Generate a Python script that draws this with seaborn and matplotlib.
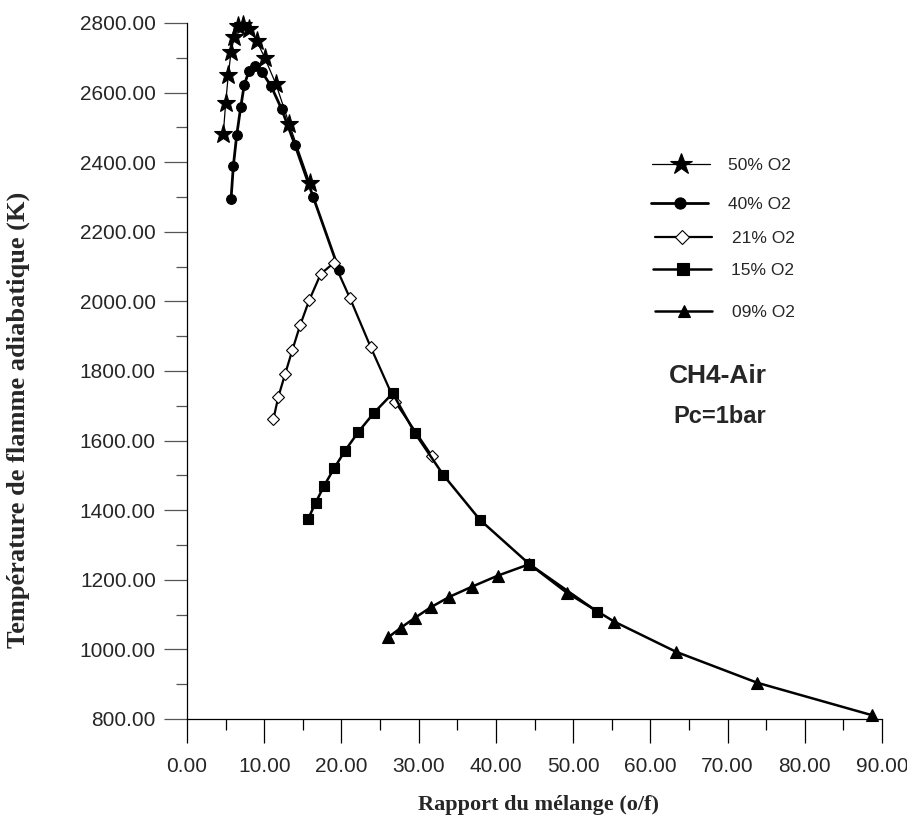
import numpy as np
import pandas as pd
import matplotlib
matplotlib.use("Agg")
import matplotlib.pyplot as plt
import seaborn as sns
from matplotlib.lines import Line2D
from matplotlib.ticker import MultipleLocator, FormatStrFormatter

# ---- data ----
o2_50_x = [4.70, 5.01, 5.35, 5.70, 6.13, 6.64, 7.29, 8.07, 9.03, 10.10, 11.53, 13.25, 15.93]
o2_50_y = [2481, 2571, 2651, 2716, 2761, 2790, 2795, 2782, 2749, 2698, 2624, 2509, 2339]
o2_40_x = [5.70, 6.00, 6.44, 6.96, 7.42, 8.03, 8.81, 9.68, 10.88, 12.27, 13.99, 16.36, 19.69]
o2_40_y = [2293, 2389, 2478, 2559, 2623, 2662, 2676, 2660, 2619, 2552, 2449, 2299, 2090]
o2_21_x = [11.18, 11.83, 12.69, 13.64, 14.64, 15.84, 17.32, 19.04, 21.11, 23.80, 26.94, 31.70]
o2_21_y = [1661, 1726, 1790, 1860, 1931, 2004, 2079, 2111, 2009, 1868, 1712, 1556]
o2_15_x = [15.71, 16.67, 17.75, 19.04, 20.47, 22.19, 24.22, 26.64, 29.53, 33.20, 37.95, 44.34, 53.15]
o2_15_y = [1376, 1422, 1470, 1520, 1571, 1625, 1680, 1736, 1621, 1501, 1372, 1245, 1108]
o2_09_x = [26.08, 27.68, 29.53, 31.57, 33.98, 36.88, 40.25, 44.34, 49.18, 55.31, 63.34, 73.87, 88.69]
o2_09_y = [1035, 1062, 1091, 1121, 1151, 1180, 1212, 1245, 1163, 1080, 993, 904, 811]

series_labels = ["50% O2", "40% O2", "21% O2", "15% O2", "09% O2"]
x_label = "Rapport du mélange (o/f)"
y_label = "Température de flamme adiabatique (K)"

frames = []
for lab, xs, ys in zip(series_labels,
                       [o2_50_x, o2_40_x, o2_21_x, o2_15_x, o2_09_x],
                       [o2_50_y, o2_40_y, o2_21_y, o2_15_y, o2_09_y]):
    frames.append(pd.DataFrame({"x": xs, "y": ys, "serie": lab}))
df = pd.concat(frames, ignore_index=True)

styles = {
    "50% O2": dict(marker="*", ms=14, lw=0.9, mfc="black"),
    "40% O2": dict(marker="o", ms=7, lw=2.0, mfc="black"),
    "21% O2": dict(marker="D", ms=6.5, lw=1.6, mfc="white"),
    "15% O2": dict(marker="s", ms=7, lw=1.8, mfc="black"),
    "09% O2": dict(marker="^", ms=8, lw=1.8, mfc="black"),
}

sns.set_style("ticks")
plt.rcParams["font.family"] = ["Liberation Sans", "DejaVu Sans"]

W, H = 907, 816
fig = plt.figure(figsize=(W / 100, H / 100), dpi=100)
ax = fig.add_axes([187 / W, 1 - 719 / H, (882 - 187) / W, (719 - 23) / H])

for lab in series_labels:
    st = styles[lab]
    sub = df[df["serie"] == lab]
    sns.lineplot(data=sub, x="x", y="y", ax=ax, sort=False, estimator=None,
                 color="black", linewidth=st["lw"], marker=st["marker"],
                 markersize=st["ms"], markerfacecolor=st["mfc"],
                 markeredgecolor="black", markeredgewidth=0.8,
                 clip_on=False, legend=False)

ax.set_xlim(0, 90)
ax.set_ylim(800, 2800)
ax.xaxis.set_major_locator(MultipleLocator(10))
ax.xaxis.set_minor_locator(MultipleLocator(5))
ax.yaxis.set_major_locator(MultipleLocator(200))
ax.yaxis.set_minor_locator(MultipleLocator(100))
ax.xaxis.set_major_formatter(FormatStrFormatter("%.2f"))
ax.yaxis.set_major_formatter(FormatStrFormatter("%.2f"))

for s in ["top", "right"]:
    ax.spines[s].set_visible(False)
for s in ["left", "bottom"]:
    ax.spines[s].set_color("black")
    ax.spines[s].set_linewidth(0.9)

ax.tick_params(axis="x", which="major", length=17, width=0.9, color="black",
               direction="out", labelsize=15, pad=10)
ax.tick_params(axis="x", which="minor", length=8, width=0.9, color="black", direction="out")
ax.tick_params(axis="y", which="major", length=16.5, width=0.9, color="#555555",
               direction="out", labelsize=15, pad=6)
ax.tick_params(axis="y", which="minor", length=8, width=0.9, color="#555555", direction="out")

ax.set_xlabel(x_label, family=["Liberation Serif"], fontweight="bold", fontsize=16)
ax.set_ylabel(y_label, family=["Liberation Serif"], fontweight="bold", fontsize=19)
ax.xaxis.set_label_coords((538 - 187) / 695, (719 - 805) / 696)
ax.xaxis.label.set_va("center")
ax.yaxis.set_label_coords((18 - 187) / 695, (719 - 420) / 696)
ax.yaxis.label.set_va("center")

# ---- legend drawn by hand (irregular spacing as in the reference) ----
leg_rows = [
    ("50% O2", 652, 710, 681, 164, 728),
    ("40% O2", 651, 708, 680, 203, 728),
    ("21% O2", 655, 712, 682, 237, 732),
    ("15% O2", 653, 711, 683, 269, 731),
    ("09% O2", 655, 712, 684, 311, 732),
]
for lab, x0, x1, xm, yy, xt in leg_rows:
    st = styles[lab]
    fig.add_artist(Line2D([x0 / W, x1 / W], [1 - yy / H, 1 - yy / H],
                          transform=fig.transFigure, color="black", lw=st["lw"]))
    fig.add_artist(Line2D([xm / W], [1 - yy / H], transform=fig.transFigure,
                          marker=st["marker"], markersize=st["ms"] * 1.15,
                          markerfacecolor=st["mfc"], markeredgecolor="black",
                          markeredgewidth=0.8, linestyle="none"))
    fig.text(xt / W, 1 - (yy + 6) / H, lab, fontsize=12.5, ha="left", va="baseline")

fig.text(718 / W, 1 - 383 / H, "CH4-Air", fontsize=19, fontweight="bold",
         ha="center", va="baseline")
fig.text(720 / W, 1 - 423 / H, "Pc=1bar", fontsize=17, fontweight="bold",
         ha="center", va="baseline")

fig.savefig("out.png", dpi=100)
